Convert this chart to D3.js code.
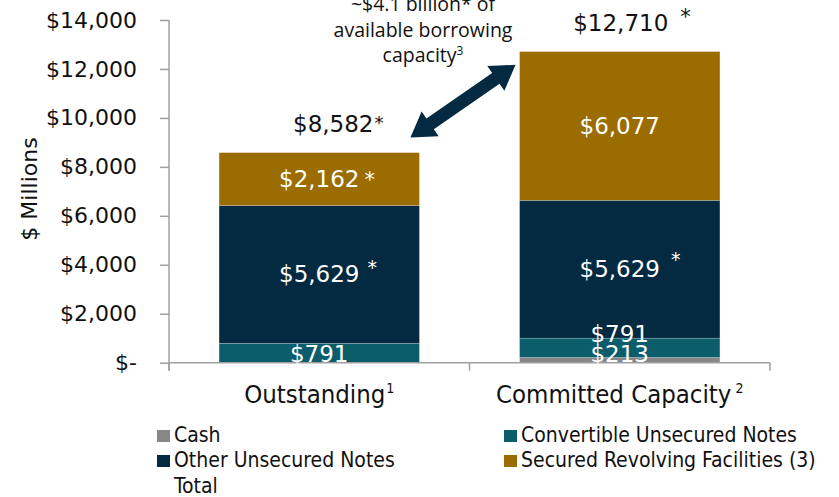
<!DOCTYPE html>
<html lang="en">
<head>
<meta charset="utf-8" />
<title>Borrowing capacity</title>
<script src="https://cdn.jsdelivr.net/npm/d3@7"></script>
<style>
  body { margin: 0; background: #fff; }
  svg { display: block; }
  .num { font-family: "DejaVu Sans", sans-serif; }
  .narrow { font-family: "Liberation Sans Narrow", "DejaVu Sans Condensed", sans-serif; }
  .note { font-family: "Open Sans", sans-serif; }
</style>
</head>
<body>
<div id="chart"></div>
<script>
// categories and series (values in $ millions)
var categories = ["Outstanding", "Committed Capacity"];
var catSup = ["1", "2"];
var seriesNames = ["Cash", "Convertible Unsecured Notes", "Other Unsecured Notes", "Secured Revolving Facilities (3)"];
var cash = [0, 213];
var convertible = [791, 791];
var otherUnsecured = [5629, 5629];
var securedRevolving = [2162, 6077];
var totals = [8582, 12710];
// which labels carry an asterisk
var starOther = [true, true];
var starSecured = [true, false];
var yTicks = [0, 2000, 4000, 6000, 8000, 10000, 12000, 14000];
var colors = ["#878787", "#0b5d6b", "#032a41", "#9b6c00"];

var width = 839, height = 497;
var svg = d3.select("#chart").append("svg")
    .attr("width", width).attr("height", height);

var x = d3.scaleBand().domain(categories).range([169, 770])
    .paddingInner(1 / 3).paddingOuter(1 / 6);
var y = d3.scaleLinear().domain([0, 14000]).range([362.7, 20]);

var fmt = d3.format(",");

// y axis
var yAxis = d3.axisLeft(y).tickValues(yTicks).tickSize(9).tickPadding(23)
    .tickFormat(function (d) { return d === 0 ? "$-" : "$" + fmt(d); });
var gy = svg.append("g").attr("transform", "translate(169,0)").call(yAxis);
gy.select(".domain").remove();
gy.selectAll(".tick line").attr("stroke", "#a0a0a0").attr("stroke-width", 1.5);
gy.selectAll(".tick text").attr("class", "num").attr("font-size", 22).attr("fill", "#111");
svg.append("line").attr("x1", 169).attr("x2", 169).attr("y1", y(14000)).attr("y2", y(0) + 8)
    .attr("stroke", "#a0a0a0").attr("stroke-width", 1.5);

svg.append("text").attr("class", "num")
    .attr("transform", "translate(37,189) rotate(-90)")
    .attr("text-anchor", "middle").attr("font-size", 22).attr("fill", "#111")
    .text("$ Millions");

// stacked data
var rows = categories.map(function (c, i) {
    return { cat: c, Cash: cash[i], "Convertible Unsecured Notes": convertible[i],
             "Other Unsecured Notes": otherUnsecured[i],
             "Secured Revolving Facilities (3)": securedRevolving[i] };
});
var stack = d3.stack().keys(seriesNames)(rows);

var layers = svg.append("g").selectAll("g").data(stack).enter().append("g")
    .attr("fill", function (d, i) { return colors[i]; });
layers.selectAll("rect").data(function (d) { return d; }).enter().append("rect")
    .attr("x", function (d) { return x(d.data.cat); })
    .attr("width", x.bandwidth())
    .attr("y", function (d) { return y(d[1]); })
    .attr("height", function (d) { return y(d[0]) - y(d[1]); })
    .attr("stroke", "rgba(255,255,255,0.35)").attr("stroke-width", 0.6);

// x axis line with boundary ticks
svg.append("line").attr("x1", 169).attr("x2", 770).attr("y1", y(0)).attr("y2", y(0))
    .attr("stroke", "#a0a0a0").attr("stroke-width", 1.5);
[169, (169 + 770) / 2, 770].forEach(function (bx) {
    svg.append("line").attr("x1", bx).attr("x2", bx).attr("y1", y(0)).attr("y2", y(0) + 8)
        .attr("stroke", "#a0a0a0").attr("stroke-width", 1.5);
});

// number label with an optional asterisk placed after it
function numLabel(cx, baseY, str, color, star) {
    var t = svg.append("text").attr("class", "num")
        .attr("x", cx).attr("y", baseY).attr("text-anchor", "middle")
        .attr("font-size", 23).attr("fill", color).text(str);
    if (star) {
        var w = t.node().getComputedTextLength();
        svg.append("text").attr("class", "num")
            .attr("x", cx + w / 2 + star.dx).attr("y", baseY + star.dy)
            .attr("font-size", star.size).attr("fill", color).text("*");
    }
}

categories.forEach(function (c, i) {
    var cx = x(c) + x.bandwidth() / 2;
    var small = 0;
    stack.forEach(function (layer, k) {
        var d = layer[i];
        var v = d[1] - d[0];
        if (v <= 0) return;
        var h = y(d[0]) - y(d[1]);
        var cy;
        if (h < 25) { cy = y(0) - 9 - small * 20; small++; }
        else cy = (y(d[0]) + y(d[1])) / 2;
        var star = null;
        if (k === 2 && starOther[i]) star = { dx: i === 0 ? 8 : 11, dy: i === 0 ? -8 : -11, size: 19 };
        if (k === 3 && starSecured[i]) star = { dx: 5, dy: 0, size: 21 };
        numLabel(cx, cy + 8, "$" + fmt(v), "#fff", star);
    });
    // total labels
    numLabel(cx + (i === 0 ? 14 : 1), y(totals[i]) - 21, "$" + fmt(totals[i]), "#111",
        i === 0 ? { dx: 1, dy: -3, size: 18 } : { dx: 12, dy: -7, size: 21 });

    // category labels
    var ct = svg.append("text").attr("class", "narrow")
        .attr("x", cx).attr("y", 403).attr("text-anchor", "middle")
        .attr("font-size", 25.5).attr("fill", "#111");
    ct.append("tspan").text(c);
    ct.append("tspan").attr("dx", i === 0 ? 1 : 4).attr("dy", -10).attr("font-size", 14).text(catSup[i]);
});

// annotation arrow between the two bars
var p0 = [x(categories[0]) + x.bandwidth() - 9, y(9200)];
var p1 = [x(categories[1]) - 4, y(12170)];
var dxA = p1[0] - p0[0], dyA = p1[1] - p0[1];
var len = Math.sqrt(dxA * dxA + dyA * dyA);
var ux = dxA / len, uy = dyA / len, nx = -uy, ny = ux;
var hl = 24, hw = 15, sw = 6.5;
function pt(s, n) { return [p0[0] + ux * s + nx * n, p0[1] + uy * s + ny * n]; }
var arrowPts = [
    pt(0, 0), pt(hl, hw), pt(hl, sw), pt(len - hl, sw), pt(len - hl, hw),
    pt(len, 0), pt(len - hl, -hw), pt(len - hl, -sw), pt(hl, -sw), pt(hl, -hw)
];
svg.append("polygon").attr("points", arrowPts.map(function (p) { return p.join(","); }).join(" "))
    .attr("fill", "#032a41");

var note = svg.append("text").attr("class", "note").attr("text-anchor", "middle")
    .attr("font-size", 19.5).attr("fill", "#111");
note.append("tspan").attr("x", 423).attr("y", 11).text("~$4.1 billion* of");
note.append("tspan").attr("x", 423).attr("y", 37).text("available borrowing");
note.append("tspan").attr("x", 423).attr("y", 62).text("capacity");
note.append("tspan").attr("dy", -7).attr("font-size", 12).text("3");

// legend
var legendItems = [
    { name: "Cash", color: colors[0], x: 157, y: 442 },
    { name: "Convertible Unsecured Notes", color: colors[1], x: 504, y: 442 },
    { name: "Other Unsecured Notes", color: colors[2], x: 157, y: 467 },
    { name: "Secured Revolving Facilities (3)", color: colors[3], x: 504, y: 467 },
    { name: "Total", color: null, x: 157, y: 493 }
];
var lg = svg.append("g").selectAll("g").data(legendItems).enter().append("g");
lg.filter(function (d) { return d.color; }).append("rect")
    .attr("x", function (d) { return d.x; }).attr("y", function (d) { return d.y - 12; })
    .attr("width", 13).attr("height", 12).attr("fill", function (d) { return d.color; });
lg.append("text").attr("class", "narrow")
    .attr("x", function (d) { return d.x + 17; }).attr("y", function (d) { return d.y; })
    .attr("font-size", 21).attr("fill", "#111")
    .text(function (d) { return d.name; });
</script>
</body>
</html>
